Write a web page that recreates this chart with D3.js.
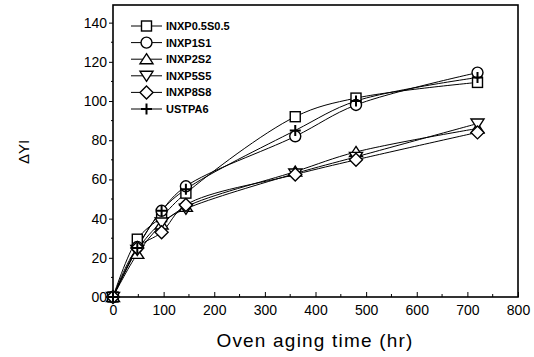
<!DOCTYPE html>
<html>
<head>
<meta charset="utf-8">
<script src="https://cdn.jsdelivr.net/npm/d3@7/dist/d3.min.js"></script>
<style>
  html, body { margin: 0; padding: 0; background: #fff; }
  svg { display: block; font-family: "Liberation Sans", Arial, sans-serif; }
</style>
</head>
<body>
<svg id="chart" width="534" height="357"></svg>
<script>
// Aging times (hr)
const hours = [0, 48, 96, 144, 360, 480, 720];

// ΔYI per sample
const seriesNames = ["INXP0.5S0.5", "INXP1S1", "INXP2S2", "INXP5S5", "INXP8S8", "USTPA6"];
const inxp05s05 = [0, 29.5, 41, 53, 92, 101.5, 109.5];
const inxp1s1   = [0, 25.5, 44, 56.5, 82, 98, 114.5];
const inxp2s2   = [0, 22, 37, 46, 64, 74, 86];
const inxp5s5   = [0, 24, 38, 45, 63, 71.5, 88.5];
const inxp8s8   = [0, 25, 33, 47, 62.5, 70, 84];
const ustpa6    = [0, 25, 44, 55, 85, 100, 112];
const seriesSymbols = ["square", "circle", "triUp", "triDown", "diamond", "plus"];

const xTicks = [0, 100, 200, 300, 400, 500, 600, 700, 800];
const yTicks = [0, 20, 40, 60, 80, 100, 120, 140];
const yTickLabels = ["00", "20", "40", "60", "80", "100", "120", "140"];

const seriesValues = [inxp05s05, inxp1s1, inxp2s2, inxp5s5, inxp8s8, ustpa6];

const svg = d3.select("#chart");
const plotLeft = 113, plotRight = 518, plotTop = 5, plotBottom = 297;

const x = d3.scaleLinear().domain([0, 800]).range([plotLeft, plotRight]);
const y = d3.scaleLinear().domain([0, 149]).range([plotBottom, plotTop]);

// frame
svg.append("rect")
  .attr("x", plotLeft).attr("y", plotTop)
  .attr("width", plotRight - plotLeft).attr("height", plotBottom - plotTop)
  .attr("fill", "none").attr("stroke", "#000").attr("stroke-width", 1.6);

// left axis: outward ticks
const yAxis = d3.axisLeft(y).tickValues(yTicks).tickSize(4).tickPadding(2)
  .tickFormat((d, i) => yTickLabels[i]);
const gy = svg.append("g").attr("transform", `translate(${plotLeft},0)`).call(yAxis);
gy.select(".domain").remove();
gy.selectAll("text").attr("font-size", 14).attr("fill", "#000");
// minor y ticks
svg.append("g").selectAll("line")
  .data(d3.range(10, 150, 20))
  .join("line")
  .attr("x1", plotLeft - 2).attr("x2", plotLeft)
  .attr("y1", d => y(d)).attr("y2", d => y(d))
  .attr("stroke", "#000").attr("stroke-width", 1);

// bottom axis: inward ticks
const xAxis = d3.axisBottom(x).tickValues(xTicks).tickSize(-5).tickPadding(8)
  .tickFormat(d3.format("d"));
const gx = svg.append("g").attr("transform", `translate(0,${plotBottom})`).call(xAxis);
gx.select(".domain").remove();
gx.selectAll("text").attr("font-size", 14).attr("fill", "#000");
svg.append("g").selectAll("line")
  .data(d3.range(50, 800, 100))
  .join("line")
  .attr("x1", d => x(d)).attr("x2", d => x(d))
  .attr("y1", plotBottom).attr("y2", plotBottom - 3)
  .attr("stroke", "#000").attr("stroke-width", 1);

// axis titles
svg.append("text")
  .attr("transform", "translate(29,152) rotate(-90)")
  .attr("text-anchor", "middle")
  .attr("font-size", 15)
  .text("ΔYI");
svg.append("text")
  .attr("x", 315).attr("y", 347)
  .attr("text-anchor", "middle")
  .attr("font-size", 19)
  .attr("letter-spacing", 1.2)
  .text("Oven aging time (hr)");

// smooth curves through the measured points
const line = d3.line()
  .x((d, i) => x(hours[i]))
  .y(d => y(d))
  .curve(d3.curveCatmullRom.alpha(0.5));

const plot = svg.append("g");
plot.selectAll("path.series")
  .data(seriesValues)
  .join("path")
  .attr("class", "series")
  .attr("d", line)
  .attr("fill", "none")
  .attr("stroke", "#000")
  .attr("stroke-width", 1);

function drawSymbol(g, kind, cx, cy) {
  const s = 5.5;
  let el;
  if (kind === "square") {
    el = g.append("rect").attr("x", cx - s + 0.5).attr("y", cy - s + 0.5)
      .attr("width", 2 * s - 1).attr("height", 2 * s - 1);
  } else if (kind === "circle") {
    el = g.append("circle").attr("cx", cx).attr("cy", cy).attr("r", s);
  } else if (kind === "triUp") {
    el = g.append("path").attr("d", `M${cx},${cy - s}L${cx + s + 1},${cy + s - 1}L${cx - s - 1},${cy + s - 1}Z`);
  } else if (kind === "triDown") {
    el = g.append("path").attr("d", `M${cx},${cy + s}L${cx + s + 1},${cy - s + 1}L${cx - s - 1},${cy - s + 1}Z`);
  } else if (kind === "diamond") {
    el = g.append("path").attr("d", `M${cx},${cy - s - 1}L${cx + s + 1},${cy}L${cx},${cy + s + 1}L${cx - s - 1},${cy}Z`);
  } else {
    return g.append("path")
      .attr("d", `M${cx - s},${cy}H${cx + s}M${cx},${cy - s}V${cy + s}`)
      .attr("fill", "none").attr("stroke", "#000").attr("stroke-width", 2);
  }
  return el.attr("fill", "#fff").attr("stroke", "#000").attr("stroke-width", 1.4);
}

seriesValues.forEach((vals, si) => {
  const g = plot.append("g");
  vals.forEach((v, i) => drawSymbol(g, seriesSymbols[si], x(hours[i]), y(v)));
});

// legend
const legend = svg.append("g");
seriesNames.forEach((name, i) => {
  const ly = 26 + i * 16.6;
  legend.append("line")
    .attr("x1", 131).attr("x2", 162).attr("y1", ly).attr("y2", ly)
    .attr("stroke", "#000").attr("stroke-width", 1);
  drawSymbol(legend, seriesSymbols[i], 146.5, ly);
  legend.append("text")
    .attr("x", 166).attr("y", ly + 4)
    .attr("font-size", 11).attr("font-weight", "bold")
    .text(name);
});
</script>
</body>
</html>
